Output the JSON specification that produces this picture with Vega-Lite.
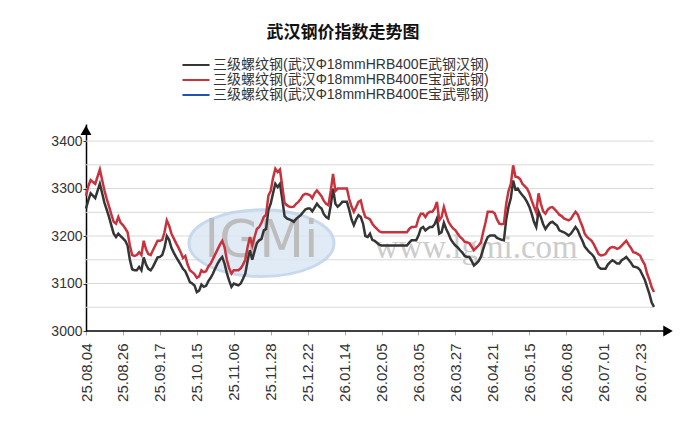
{
  "$schema": "https://vega.github.io/schema/vega-lite/v6.json",
  "width": 582,
  "height": 207,
  "autosize": {"type": "none"},
  "padding": {"left": 86, "top": 124, "right": 24, "bottom": 114},
  "background": "white",
  "config": {"view": {"stroke": null}, "font": "Liberation Sans"},
  "title": {
    "text": "武汉钢价指数走势图",
    "font": "Noto Sans CJK SC",
    "fontSize": 17,
    "fontWeight": "bold",
    "color": "#111111",
    "anchor": "middle",
    "frame": "group",
    "dx": -34,
    "offset": 15
  },
  "datasets": {
    "grid": [{"g": 3050}, {"g": 3100}, {"g": 3150}, {"g": 3200}, {"g": 3250}, {"g": 3300}, {"g": 3350}, {"g": 3400}],
    "prices": [
      {"d": "25.08.04", "a": 3258, "b": 3285}, {"d": "25.08.05", "a": 3275, "b": 3305}, {"d": "25.08.06", "a": 3290, "b": 3318},
      {"d": "25.08.07", "a": 3285, "b": 3314}, {"d": "25.08.08", "a": 3280, "b": 3310}, {"d": "25.08.11", "a": 3295, "b": 3325},
      {"d": "25.08.12", "a": 3310, "b": 3340}, {"d": "25.08.13", "a": 3290, "b": 3318}, {"d": "25.08.14", "a": 3270, "b": 3296},
      {"d": "25.08.15", "a": 3255, "b": 3278}, {"d": "25.08.18", "a": 3240, "b": 3262}, {"d": "25.08.19", "a": 3222, "b": 3245},
      {"d": "25.08.20", "a": 3205, "b": 3230}, {"d": "25.08.21", "a": 3198, "b": 3226}, {"d": "25.08.22", "a": 3205, "b": 3240},
      {"d": "25.08.25", "a": 3200, "b": 3228}, {"d": "25.08.26", "a": 3195, "b": 3223}, {"d": "25.08.27", "a": 3190, "b": 3216},
      {"d": "25.08.28", "a": 3180, "b": 3208}, {"d": "25.08.29", "a": 3150, "b": 3180}, {"d": "25.09.01", "a": 3130, "b": 3160},
      {"d": "25.09.02", "a": 3128, "b": 3158}, {"d": "25.09.03", "a": 3128, "b": 3160}, {"d": "25.09.04", "a": 3135, "b": 3166},
      {"d": "25.09.05", "a": 3128, "b": 3160}, {"d": "25.09.08", "a": 3155, "b": 3190}, {"d": "25.09.09", "a": 3140, "b": 3172},
      {"d": "25.09.10", "a": 3131, "b": 3162}, {"d": "25.09.11", "a": 3128, "b": 3160}, {"d": "25.09.12", "a": 3135, "b": 3170},
      {"d": "25.09.15", "a": 3145, "b": 3180}, {"d": "25.09.16", "a": 3155, "b": 3190}, {"d": "25.09.17", "a": 3156, "b": 3190},
      {"d": "25.09.18", "a": 3160, "b": 3192}, {"d": "25.09.19", "a": 3175, "b": 3208}, {"d": "25.09.22", "a": 3200, "b": 3233},
      {"d": "25.09.23", "a": 3192, "b": 3222}, {"d": "25.09.24", "a": 3175, "b": 3205}, {"d": "25.09.25", "a": 3165, "b": 3195},
      {"d": "25.09.26", "a": 3156, "b": 3185}, {"d": "25.09.28", "a": 3148, "b": 3176}, {"d": "25.09.29", "a": 3140, "b": 3166},
      {"d": "25.09.30", "a": 3131, "b": 3154}, {"d": "25.10.09", "a": 3126, "b": 3158}, {"d": "25.10.10", "a": 3115, "b": 3140},
      {"d": "25.10.11", "a": 3103, "b": 3128}, {"d": "25.10.13", "a": 3100, "b": 3124}, {"d": "25.10.14", "a": 3096, "b": 3120},
      {"d": "25.10.15", "a": 3082, "b": 3112}, {"d": "25.10.16", "a": 3085, "b": 3115}, {"d": "25.10.17", "a": 3098, "b": 3128},
      {"d": "25.10.20", "a": 3093, "b": 3124}, {"d": "25.10.21", "a": 3095, "b": 3126}, {"d": "25.10.22", "a": 3105, "b": 3136},
      {"d": "25.10.23", "a": 3112, "b": 3142}, {"d": "25.10.24", "a": 3121, "b": 3152}, {"d": "25.10.27", "a": 3132, "b": 3162},
      {"d": "25.10.28", "a": 3142, "b": 3172}, {"d": "25.10.29", "a": 3150, "b": 3182}, {"d": "25.10.30", "a": 3156, "b": 3190},
      {"d": "25.10.31", "a": 3142, "b": 3177}, {"d": "25.11.03", "a": 3122, "b": 3150}, {"d": "25.11.04", "a": 3106, "b": 3132},
      {"d": "25.11.05", "a": 3093, "b": 3121}, {"d": "25.11.06", "a": 3100, "b": 3128}, {"d": "25.11.07", "a": 3098, "b": 3128},
      {"d": "25.11.10", "a": 3096, "b": 3128}, {"d": "25.11.11", "a": 3100, "b": 3132}, {"d": "25.11.12", "a": 3110, "b": 3140},
      {"d": "25.11.13", "a": 3121, "b": 3150}, {"d": "25.11.14", "a": 3148, "b": 3177}, {"d": "25.11.17", "a": 3170, "b": 3198},
      {"d": "25.11.18", "a": 3150, "b": 3180}, {"d": "25.11.19", "a": 3168, "b": 3198}, {"d": "25.11.20", "a": 3185, "b": 3215},
      {"d": "25.11.21", "a": 3191, "b": 3219}, {"d": "25.11.24", "a": 3194, "b": 3228}, {"d": "25.11.25", "a": 3212, "b": 3240},
      {"d": "25.11.26", "a": 3215, "b": 3245}, {"d": "25.11.27", "a": 3255, "b": 3285}, {"d": "25.11.28", "a": 3268, "b": 3295},
      {"d": "25.12.01", "a": 3290, "b": 3322}, {"d": "25.12.02", "a": 3310, "b": 3342}, {"d": "25.12.03", "a": 3303, "b": 3335},
      {"d": "25.12.04", "a": 3310, "b": 3340}, {"d": "25.12.05", "a": 3278, "b": 3305}, {"d": "25.12.08", "a": 3242, "b": 3270},
      {"d": "25.12.09", "a": 3237, "b": 3265}, {"d": "25.12.10", "a": 3235, "b": 3262}, {"d": "25.12.11", "a": 3233, "b": 3261},
      {"d": "25.12.12", "a": 3230, "b": 3262}, {"d": "25.12.15", "a": 3236, "b": 3268}, {"d": "25.12.16", "a": 3240, "b": 3272},
      {"d": "25.12.17", "a": 3244, "b": 3278}, {"d": "25.12.18", "a": 3250, "b": 3286}, {"d": "25.12.19", "a": 3256, "b": 3289},
      {"d": "25.12.22", "a": 3258, "b": 3288}, {"d": "25.12.23", "a": 3258, "b": 3286}, {"d": "25.12.24", "a": 3252, "b": 3280},
      {"d": "25.12.25", "a": 3260, "b": 3290}, {"d": "25.12.26", "a": 3268, "b": 3296}, {"d": "25.12.29", "a": 3262, "b": 3290},
      {"d": "25.12.30", "a": 3258, "b": 3284}, {"d": "25.12.31", "a": 3246, "b": 3274}, {"d": "26.01.04", "a": 3240, "b": 3268},
      {"d": "26.01.05", "a": 3237, "b": 3265}, {"d": "26.01.06", "a": 3265, "b": 3295}, {"d": "26.01.07", "a": 3300, "b": 3331},
      {"d": "26.01.08", "a": 3268, "b": 3295}, {"d": "26.01.09", "a": 3262, "b": 3300}, {"d": "26.01.12", "a": 3266, "b": 3300},
      {"d": "26.01.13", "a": 3272, "b": 3300}, {"d": "26.01.14", "a": 3272, "b": 3300}, {"d": "26.01.15", "a": 3272, "b": 3300},
      {"d": "26.01.16", "a": 3255, "b": 3278}, {"d": "26.01.19", "a": 3235, "b": 3262}, {"d": "26.01.20", "a": 3223, "b": 3251},
      {"d": "26.01.21", "a": 3235, "b": 3261}, {"d": "26.01.22", "a": 3244, "b": 3272}, {"d": "26.01.23", "a": 3240, "b": 3275},
      {"d": "26.01.26", "a": 3226, "b": 3254}, {"d": "26.01.27", "a": 3200, "b": 3240}, {"d": "26.01.28", "a": 3198, "b": 3238},
      {"d": "26.01.29", "a": 3205, "b": 3235}, {"d": "26.01.30", "a": 3192, "b": 3226}, {"d": "26.02.02", "a": 3190, "b": 3220},
      {"d": "26.02.03", "a": 3186, "b": 3215}, {"d": "26.02.04", "a": 3182, "b": 3210}, {"d": "26.02.05", "a": 3180, "b": 3208},
      {"d": "26.02.06", "a": 3180, "b": 3208}, {"d": "26.02.09", "a": 3180, "b": 3208}, {"d": "26.02.10", "a": 3180, "b": 3208},
      {"d": "26.02.11", "a": 3180, "b": 3208}, {"d": "26.02.12", "a": 3180, "b": 3208}, {"d": "26.02.13", "a": 3180, "b": 3208},
      {"d": "26.02.14", "a": 3180, "b": 3208}, {"d": "26.02.24", "a": 3180, "b": 3208}, {"d": "26.02.25", "a": 3180, "b": 3208},
      {"d": "26.02.26", "a": 3180, "b": 3208}, {"d": "26.02.27", "a": 3180, "b": 3208}, {"d": "26.02.28", "a": 3186, "b": 3215},
      {"d": "26.03.02", "a": 3191, "b": 3219}, {"d": "26.03.03", "a": 3191, "b": 3219}, {"d": "26.03.04", "a": 3191, "b": 3220},
      {"d": "26.03.05", "a": 3201, "b": 3237}, {"d": "26.03.06", "a": 3216, "b": 3247}, {"d": "26.03.09", "a": 3219, "b": 3247},
      {"d": "26.03.10", "a": 3212, "b": 3240}, {"d": "26.03.11", "a": 3216, "b": 3248}, {"d": "26.03.12", "a": 3219, "b": 3251},
      {"d": "26.03.13", "a": 3219, "b": 3251}, {"d": "26.03.16", "a": 3225, "b": 3258}, {"d": "26.03.17", "a": 3237, "b": 3272},
      {"d": "26.03.18", "a": 3205, "b": 3233}, {"d": "26.03.19", "a": 3208, "b": 3240}, {"d": "26.03.20", "a": 3228, "b": 3261},
      {"d": "26.03.23", "a": 3215, "b": 3244}, {"d": "26.03.24", "a": 3205, "b": 3230}, {"d": "26.03.25", "a": 3193, "b": 3222},
      {"d": "26.03.26", "a": 3186, "b": 3216}, {"d": "26.03.27", "a": 3180, "b": 3212}, {"d": "26.03.30", "a": 3176, "b": 3205},
      {"d": "26.03.31", "a": 3170, "b": 3198}, {"d": "26.04.01", "a": 3165, "b": 3194}, {"d": "26.04.02", "a": 3158, "b": 3188},
      {"d": "26.04.03", "a": 3156, "b": 3187}, {"d": "26.04.07", "a": 3156, "b": 3185}, {"d": "26.04.08", "a": 3148, "b": 3178},
      {"d": "26.04.09", "a": 3138, "b": 3170}, {"d": "26.04.10", "a": 3142, "b": 3175}, {"d": "26.04.13", "a": 3147, "b": 3180},
      {"d": "26.04.14", "a": 3156, "b": 3186}, {"d": "26.04.15", "a": 3172, "b": 3208}, {"d": "26.04.16", "a": 3187, "b": 3228},
      {"d": "26.04.17", "a": 3198, "b": 3251}, {"d": "26.04.20", "a": 3201, "b": 3251}, {"d": "26.04.21", "a": 3201, "b": 3251},
      {"d": "26.04.22", "a": 3201, "b": 3248}, {"d": "26.04.23", "a": 3196, "b": 3235}, {"d": "26.04.24", "a": 3194, "b": 3226},
      {"d": "26.04.27", "a": 3192, "b": 3225}, {"d": "26.04.28", "a": 3191, "b": 3226}, {"d": "26.04.29", "a": 3235, "b": 3268},
      {"d": "26.04.30", "a": 3262, "b": 3295}, {"d": "26.05.06", "a": 3280, "b": 3310}, {"d": "26.05.07", "a": 3317, "b": 3349},
      {"d": "26.05.08", "a": 3298, "b": 3325}, {"d": "26.05.09", "a": 3300, "b": 3324}, {"d": "26.05.11", "a": 3292, "b": 3320},
      {"d": "26.05.12", "a": 3286, "b": 3310}, {"d": "26.05.13", "a": 3280, "b": 3305}, {"d": "26.05.14", "a": 3272, "b": 3300},
      {"d": "26.05.15", "a": 3262, "b": 3290}, {"d": "26.05.18", "a": 3247, "b": 3275}, {"d": "26.05.19", "a": 3230, "b": 3262},
      {"d": "26.05.20", "a": 3219, "b": 3250}, {"d": "26.05.21", "a": 3252, "b": 3290}, {"d": "26.05.22", "a": 3240, "b": 3268},
      {"d": "26.05.25", "a": 3225, "b": 3252}, {"d": "26.05.26", "a": 3215, "b": 3247}, {"d": "26.05.27", "a": 3222, "b": 3256},
      {"d": "26.05.28", "a": 3228, "b": 3260}, {"d": "26.05.29", "a": 3230, "b": 3261}, {"d": "26.06.01", "a": 3226, "b": 3256},
      {"d": "26.06.02", "a": 3222, "b": 3251}, {"d": "26.06.03", "a": 3212, "b": 3245}, {"d": "26.06.04", "a": 3210, "b": 3242},
      {"d": "26.06.05", "a": 3208, "b": 3237}, {"d": "26.06.08", "a": 3205, "b": 3235}, {"d": "26.06.09", "a": 3201, "b": 3233},
      {"d": "26.06.10", "a": 3205, "b": 3236}, {"d": "26.06.11", "a": 3212, "b": 3244}, {"d": "26.06.12", "a": 3219, "b": 3251},
      {"d": "26.06.15", "a": 3212, "b": 3245}, {"d": "26.06.16", "a": 3200, "b": 3232}, {"d": "26.06.17", "a": 3190, "b": 3220},
      {"d": "26.06.18", "a": 3178, "b": 3205}, {"d": "26.06.22", "a": 3172, "b": 3198}, {"d": "26.06.23", "a": 3166, "b": 3194},
      {"d": "26.06.24", "a": 3162, "b": 3190}, {"d": "26.06.25", "a": 3156, "b": 3182}, {"d": "26.06.26", "a": 3145, "b": 3172},
      {"d": "26.06.29", "a": 3135, "b": 3162}, {"d": "26.06.30", "a": 3131, "b": 3159}, {"d": "26.07.01", "a": 3131, "b": 3160},
      {"d": "26.07.02", "a": 3131, "b": 3162}, {"d": "26.07.03", "a": 3140, "b": 3170}, {"d": "26.07.06", "a": 3145, "b": 3175},
      {"d": "26.07.07", "a": 3149, "b": 3177}, {"d": "26.07.08", "a": 3146, "b": 3176}, {"d": "26.07.09", "a": 3142, "b": 3173},
      {"d": "26.07.10", "a": 3142, "b": 3175}, {"d": "26.07.13", "a": 3149, "b": 3180}, {"d": "26.07.14", "a": 3152, "b": 3185},
      {"d": "26.07.15", "a": 3156, "b": 3190}, {"d": "26.07.16", "a": 3150, "b": 3182}, {"d": "26.07.17", "a": 3144, "b": 3175},
      {"d": "26.07.20", "a": 3136, "b": 3166}, {"d": "26.07.21", "a": 3135, "b": 3165}, {"d": "26.07.22", "a": 3133, "b": 3162},
      {"d": "26.07.23", "a": 3128, "b": 3159}, {"d": "26.07.24", "a": 3118, "b": 3148}, {"d": "26.07.27", "a": 3108, "b": 3140},
      {"d": "26.07.28", "a": 3093, "b": 3121}, {"d": "26.07.29", "a": 3078, "b": 3108}, {"d": "26.07.30", "a": 3060, "b": 3092},
      {"d": "26.07.31", "a": 3051, "b": 3082}
    ]
  },
  "layer": [
    {
      "data": {"name": "grid"},
      "mark": {"type": "rule", "color": "#d9d9d9", "strokeWidth": 1},
      "encoding": {
        "x": {"datum": "25.08.04", "type": "ordinal"},
        "x2": {"datum": "26.07.31"},
        "y": {"field": "g", "type": "quantitative", "title": null, "scale": {"domain": [3000, 3436], "nice": false, "zero": false}}
      }
    },
    {
      "data": {"values": [{}]},
      "mark": {
        "type": "point",
        "shape": "M-1,0A1,0.46,0,1,1,1,0A1,0.46,0,1,1,-1,0Z",
        "size": 21025,
        "filled": true,
        "fill": "#dce8f5",
        "stroke": "#bfd3ea",
        "strokeWidth": 3,
        "opacity": 0.85
      },
      "encoding": {
        "x": {"datum": "25.11.24", "type": "ordinal"},
        "y": {"datum": 3185, "type": "quantitative"}
      }
    },
    {
      "data": {"values": [{}]},
      "mark": {"type": "text", "text": "lGMi", "font": "DejaVu Sans", "fontSize": 52, "color": "#bdbdbd", "align": "center", "baseline": "middle"},
      "encoding": {
        "x": {"datum": "25.11.24", "type": "ordinal"},
        "y": {"datum": 3190, "type": "quantitative"}
      }
    },
    {
      "data": {"values": [{}]},
      "mark": {"type": "text", "text": "www.lgmi.com", "font": "Liberation Serif", "fontSize": 33, "color": "#cccccc", "align": "center", "baseline": "alphabetic"},
      "encoding": {
        "x": {"datum": "26.04.10", "type": "ordinal"},
        "y": {"datum": 3154, "type": "quantitative"}
      }
    },
    {
      "data": {"name": "prices"},
      "transform": [{"fold": ["a", "b"], "as": ["s", "v"]}],
      "mark": {"type": "line", "strokeWidth": 2.5},
      "encoding": {
        "x": {
          "field": "d",
          "type": "ordinal",
          "scale": {"type": "point", "range": [0, 568], "padding": 0},
          "axis": {
            "values": ["25.08.04", "25.08.26", "25.09.17", "25.10.15", "25.11.06", "25.11.28", "25.12.22", "26.01.14", "26.02.05", "26.03.05", "26.03.27", "26.04.21", "26.05.15", "26.06.08", "26.07.01", "26.07.23"],
            "labelAngle": -90,
            "labelFontSize": 15,
            "labelFont": "Liberation Sans",
            "labelColor": "#333333",
            "labelOverlap": false,
            "tickColor": "#aaaaaa",
            "tickSize": 4,
            "labelPadding": 8,
            "domain": false,
            "grid": false,
            "title": null
          }
        },
        "y": {
          "field": "v",
          "type": "quantitative",
          "scale": {"domain": [3000, 3436], "nice": false, "zero": false},
          "axis": {
            "values": [3000, 3050, 3100, 3150, 3200, 3250, 3300, 3350, 3400],
            "format": "d",
            "labelFontSize": 14,
            "labelFont": "Liberation Sans",
            "labelColor": "#333333",
            "tickColor": "#333333",
            "tickSize": 3,
            "labelPadding": 1,
            "domainColor": "#000000",
            "domainWidth": 1.5,
            "grid": false,
            "title": null
          }
        },
        "color": {
          "field": "s",
          "type": "nominal",
          "scale": {"domain": ["a", "b", "c"], "range": ["#353535", "#c8323c", "#2050b8"]},
          "legend": {
            "orient": "none",
            "legendX": 102,
            "legendY": -67,
            "direction": "vertical",
            "title": null,
            "padding": 0,
            "symbolType": "M-1.93,0H1.93",
            "symbolSize": 196,
            "symbolStrokeWidth": 2,
            "labelFont": "Liberation Sans, Noto Sans CJK SC",
            "labelFontSize": 14,
            "labelColor": "#333333",
            "labelOffset": 9,
            "rowPadding": 0,
            "labelLimit": 400,
            "labelExpr": "datum.value == 'a' ? '三级螺纹钢(武汉Φ18mmHRB400E武钢汉钢)' : datum.value == 'b' ? '三级螺纹钢(武汉Φ18mmHRB400E宝武武钢)' : '三级螺纹钢(武汉Φ18mmHRB400E宝武鄂钢)'"
          }
        }
      }
    },
    {
      "data": {"values": [{}]},
      "mark": {"type": "rule", "color": "#000000", "strokeWidth": 1.5},
      "encoding": {"y": {"datum": 3000, "type": "quantitative"}}
    },
    {
      "data": {"values": [{}]},
      "mark": {"type": "point", "shape": "triangle-up", "filled": true, "color": "#000000", "size": 120, "opacity": 1},
      "encoding": {
        "x": {"datum": "25.08.04", "type": "ordinal"},
        "y": {"datum": 3423, "type": "quantitative"}
      }
    },
    {
      "data": {"values": [{}]},
      "mark": {"type": "point", "shape": "triangle-right", "filled": true, "color": "#000000", "size": 120, "opacity": 1},
      "encoding": {
        "x": {"value": "width"},
        "y": {"datum": 3000, "type": "quantitative"}
      }
    }
  ]
}
